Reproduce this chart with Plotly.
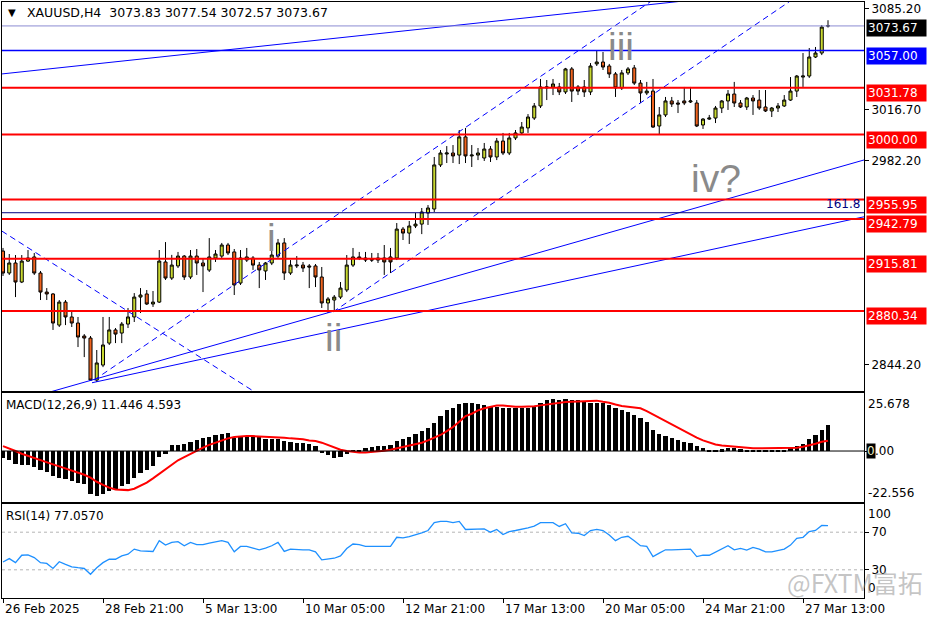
import plotly.graph_objects as go

# ---------------- data ----------------
tick_idx = [0, 16, 32, 48, 64, 80, 96, 112, 128]
tick_labels = ["26 Feb 2025", "28 Feb 21:00", "5 Mar 13:00", "10 Mar 05:00", "12 Mar 21:00",
               "17 Mar 13:00", "20 Mar 05:00", "24 Mar 21:00", "27 Mar 13:00"]

opens = [2921.0, 2906.1, 2912.9, 2900.0, 2914.2, 2917.0, 2906.1, 2893.2, 2891.9, 2870.8,
         2886.4, 2876.3, 2872.2, 2863.4, 2862.0, 2833.5, 2843.7, 2858.6, 2867.5, 2865.4,
         2871.5, 2876.3, 2889.8, 2891.9, 2885.1, 2886.4, 2913.6, 2902.7, 2910.9, 2917.6,
         2903.4, 2917.6, 2912.9, 2908.1, 2916.3, 2917.6, 2925.1, 2920.4, 2899.3, 2914.9,
         2916.3, 2911.5, 2907.5, 2912.9, 2917.6, 2926.5, 2906.1, 2910.9, 2911.5, 2910.9,
         2910.9, 2903.4, 2885.8, 2887.8, 2889.8, 2894.6, 2911.5, 2917.0, 2916.3, 2915.6,
         2916.3, 2916.3, 2917.0, 2916.3, 2935.9, 2933.2, 2938.0, 2939.3, 2946.8, 2949.5,
         2979.4, 2986.8, 2987.5, 2986.1, 2998.4, 2985.5, 2986.1, 2984.1, 2990.2, 2984.8,
         2995.6, 2987.5, 2997.7, 3001.1, 3004.5, 3011.2, 3019.4, 3031.6, 3032.3, 3032.3,
         3028.9, 3044.5, 3032.3, 3032.3, 3028.9, 3047.9, 3049.2, 3046.5, 3041.1, 3031.6,
         3041.8, 3045.2, 3034.9, 3028.2, 3029.5, 3005.8, 3013.3, 3022.8, 3021.4, 3022.8,
         3022.1, 3021.4, 3006.5, 3010.5, 3011.2, 3018.0, 3022.8, 3027.5, 3021.4, 3018.7,
         3024.8, 3023.4, 3018.7, 3016.0, 3018.0, 3019.4, 3023.4, 3029.5, 3039.0, 3039.7,
         3052.6, 3055.3, 3073.83]
highs = [2923.1, 2919.0, 2918.3, 2918.3, 2921.7, 2919.7, 2907.5, 2895.9, 2892.5, 2887.8,
         2887.8, 2879.7, 2876.3, 2864.7, 2863.4, 2853.9, 2876.3, 2876.3, 2868.8, 2872.9,
         2882.4, 2892.5, 2895.9, 2894.6, 2893.9, 2921.7, 2927.1, 2918.4, 2920.4, 2918.3,
         2921.7, 2922.4, 2916.3, 2929.8, 2921.7, 2926.5, 2926.5, 2922.4, 2921.7, 2923.1,
         2917.6, 2913.6, 2913.6, 2925.1, 2929.2, 2929.8, 2914.9, 2917.6, 2913.6, 2912.2,
         2912.2, 2910.2, 2889.8, 2891.2, 2900.0, 2918.3, 2923.1, 2920.4, 2920.4, 2919.7,
         2919.7, 2925.1, 2923.1, 2940.0, 2937.3, 2941.4, 2946.8, 2950.2, 2952.2, 2984.8,
         2989.5, 2992.2, 2992.9, 3003.1, 3004.5, 2992.9, 2990.9, 2994.3, 2992.2, 2997.7,
         3001.1, 3001.1, 3003.1, 3008.5, 3013.9, 3021.4, 3037.7, 3037.0, 3037.7, 3035.0,
         3045.2, 3045.8, 3033.6, 3037.0, 3048.5, 3056.7, 3056.0, 3047.9, 3042.4, 3043.8,
         3045.8, 3047.2, 3037.0, 3035.7, 3037.7, 3018.7, 3025.5, 3025.5, 3023.4, 3032.3,
         3032.3, 3023.4, 3011.2, 3013.3, 3019.4, 3023.4, 3030.2, 3035.7, 3023.4, 3025.5,
         3026.8, 3030.2, 3030.2, 3018.7, 3021.4, 3026.8, 3039.0, 3040.4, 3055.3, 3058.7,
         3059.4, 3074.3, 3077.54]
lows = [2904.1, 2904.8, 2889.8, 2899.3, 2913.6, 2904.8, 2887.8, 2887.8, 2867.5, 2869.5,
        2870.8, 2869.5, 2855.9, 2849.1, 2832.9, 2832.2, 2842.3, 2857.3, 2858.6, 2858.6,
        2868.8, 2872.9, 2879.0, 2884.4, 2883.1, 2885.8, 2901.4, 2901.4, 2909.5, 2901.4,
        2902.0, 2904.8, 2893.2, 2906.8, 2913.6, 2916.3, 2918.3, 2891.2, 2898.0, 2913.6,
        2908.2, 2895.9, 2901.4, 2911.5, 2916.3, 2901.4, 2904.8, 2909.5, 2906.8, 2895.9,
        2896.6, 2882.4, 2879.0, 2880.3, 2888.5, 2893.2, 2910.2, 2914.9, 2913.6, 2913.6,
        2912.9, 2904.8, 2906.1, 2914.9, 2928.5, 2925.8, 2936.6, 2932.5, 2938.7, 2947.5,
        2978.0, 2980.7, 2980.7, 2980.0, 2980.7, 2978.0, 2982.7, 2982.1, 2981.4, 2982.7,
        2986.1, 2986.1, 2996.3, 2999.7, 3001.1, 3009.9, 3018.0, 3023.4, 3026.8, 3026.8,
        3027.5, 3022.1, 3026.8, 3025.5, 3026.8, 3046.5, 3043.8, 3038.4, 3025.5, 3030.2,
        3040.4, 3033.6, 3021.4, 3026.8, 3004.5, 2999.7, 3011.9, 3018.7, 3014.6, 3020.0,
        3021.4, 3005.1, 3003.8, 3009.9, 3007.8, 3014.6, 3016.7, 3018.7, 3018.0, 3016.7,
        3013.3, 3016.7, 3015.3, 3011.9, 3015.3, 3018.7, 3022.8, 3025.5, 3032.3, 3038.4,
        3051.9, 3053.9, 3072.57]
closes = [2906.1, 2912.9, 2900.0, 2914.2, 2916.3, 2906.1, 2893.2, 2891.9, 2872.2, 2886.4,
          2876.3, 2872.2, 2862.7, 2862.0, 2833.5, 2845.1, 2857.3, 2867.5, 2864.7, 2871.5,
          2876.3, 2889.8, 2891.2, 2885.1, 2886.4, 2914.2, 2902.7, 2911.5, 2917.6, 2903.4,
          2917.6, 2912.9, 2910.9, 2917.0, 2919.0, 2925.1, 2919.7, 2898.0, 2916.3, 2917.0,
          2911.5, 2908.2, 2912.9, 2918.3, 2926.5, 2906.1, 2911.5, 2911.5, 2909.5, 2910.2,
          2903.4, 2885.8, 2888.5, 2889.8, 2895.9, 2911.5, 2917.0, 2916.3, 2914.9, 2914.9,
          2914.9, 2913.6, 2913.6, 2935.9, 2933.2, 2938.0, 2939.3, 2947.5, 2950.2, 2979.4,
          2987.5, 2987.5, 2985.5, 2998.4, 2985.5, 2986.1, 2987.5, 2990.2, 2984.8, 2995.6,
          2987.5, 2997.7, 3001.1, 3005.1, 3011.9, 3019.4, 3032.3, 3032.3, 3034.3, 3028.9,
          3044.5, 3029.5, 3029.5, 3028.9, 3046.5, 3049.2, 3045.8, 3041.1, 3031.6, 3041.8,
          3044.5, 3034.9, 3028.2, 3029.5, 3005.1, 3013.3, 3022.8, 3020.7, 3020.7, 3021.4,
          3022.8, 3005.8, 3010.5, 3011.2, 3018.0, 3022.8, 3027.5, 3021.4, 3018.7, 3024.8,
          3022.8, 3018.0, 3016.0, 3018.0, 3019.4, 3023.4, 3029.5, 3039.7, 3039.7, 3052.6,
          3055.3, 3072.9, 3073.67]

macd_main = [-3.2, -4.1, -5.9, -6.2, -6.3, -6.9, -8.6, -9.3, -11.1, -11.8,
             -12.5, -13.3, -14.0, -14.7, -18.9, -19.9, -19.2, -17.7, -17.0, -15.5,
             -14.5, -11.8, -9.6, -8.6, -6.6, -2.7, -1.5, 2.7, 2.7, 3.2,
             4.1, 5.0, 5.6, 6.3, 6.9, 7.4, 8.0, 5.9, 6.2, 6.6,
             6.6, 6.2, 5.2, 5.5, 5.5, 4.4, 4.1, 3.7, 3.4, 3.2,
             2.2, -1.0, -1.8, -2.9, -2.7, -1.5, 0.2, 0.6, 1.2, 1.8,
             2.1, 2.1, 2.5, 4.4, 5.2, 6.3, 7.7, 8.8, 10.3, 12.5,
             15.5, 18.0, 19.2, 20.6, 21.4, 21.1, 20.6, 20.4, 19.5, 19.5,
             18.9, 18.9, 18.9, 18.9, 19.2, 19.5, 21.4, 22.4, 22.9, 22.4,
             23.2, 22.6, 22.4, 21.7, 21.1, 21.4, 21.1, 20.2, 18.9, 18.0,
             17.4, 15.9, 14.5, 13.0, 9.1, 7.4, 6.6, 5.9, 4.7, 4.1,
             3.4, 2.1, 1.2, 0.3, 0.15, 0.7, 1.2, 1.5, 0.7, 0.4,
             0.3, 0.3, 0.3, 0.3, 0.3, 0.4, 1.2, 2.2, 3.2, 5.2,
             7.1, 9.1, 11.446]
macd_signal = [2.2, 1.2, 0.0, -1.2, -2.2, -3.2, -4.1, -5.0, -5.9, -6.8,
               -7.7, -8.6, -9.4, -10.5, -11.8, -13.6, -15.0, -16.2, -17.0, -17.3,
               -17.3, -16.7, -15.5, -14.0, -12.1, -10.0, -8.1, -5.9, -4.1, -2.7,
               -1.2, 0.0, 1.5, 2.7, 3.7, 4.7, 5.6, 6.2, 6.5, 6.6,
               6.6, 6.5, 6.3, 6.2, 6.0, 5.9, 5.6, 5.5, 5.2, 4.7,
               4.4, 3.7, 2.7, 1.5, 0.6, 0.0, -0.4, -0.6, -0.6, -0.4,
               -0.15, 0.15, 0.6, 1.2, 1.8, 2.4, 2.9, 3.7, 4.7, 5.9,
               7.1, 8.8, 10.6, 13.0, 15.5, 16.5, 18.0, 18.9, 19.6, 20.1,
               20.1, 19.8, 19.6, 19.6, 19.6, 19.8, 20.2, 20.6, 20.9, 21.4,
               21.7, 21.8, 22.0, 22.1, 22.3, 22.3, 21.8, 21.4, 20.6, 19.9,
               19.6, 19.2, 18.9, 17.7, 16.2, 14.7, 13.3, 11.8, 10.3, 8.8,
               7.4, 5.9, 4.7, 3.7, 2.9, 2.4, 2.1, 1.8, 1.5, 1.3,
               1.2, 1.2, 1.2, 1.2, 1.2, 1.2, 1.2, 1.5, 1.9, 2.5,
               3.2, 4.1, 4.593]
rsi = [38.3, 41.9, 37.6, 45.5, 45.9, 43.0, 37.6, 36.8, 31.4, 38.6,
       35.8, 33.2, 32.2, 31.4, 25.3, 32.2, 37.6, 41.2, 41.2, 44.8,
       46.6, 52.0, 50.2, 50.2, 49.5, 61.0, 56.3, 59.2, 59.9, 55.6,
       59.2, 56.7, 56.7, 58.5, 59.9, 61.0, 59.2, 49.1, 54.9, 54.9,
       53.1, 51.3, 53.1, 55.6, 59.2, 49.5, 52.0, 51.3, 51.3, 51.3,
       49.1, 40.5, 41.2, 42.3, 44.8, 52.7, 57.4, 56.7, 54.9, 54.9,
       54.9, 54.9, 54.9, 64.6, 63.9, 65.3, 67.1, 69.3, 71.8, 80.1,
       81.5, 81.5, 80.1, 81.5, 72.9, 72.9, 72.9, 73.6, 70.0, 72.9,
       67.5, 70.7, 71.8, 72.9, 74.7, 76.5, 80.1, 80.1, 80.1, 76.1,
       79.0, 69.3, 68.9, 66.4, 71.8, 72.9, 71.8, 67.1, 61.0, 64.6,
       65.7, 61.0, 55.6, 54.9, 44.1, 47.7, 51.3, 51.3, 51.3, 51.3,
       52.0, 44.1, 45.5, 45.5, 49.1, 52.7, 55.6, 51.3, 52.7, 50.9,
       53.8, 52.0, 49.1, 49.1, 50.2, 52.0, 56.3, 63.5, 64.6, 70.7,
       71.8, 77.2, 77.057]

red_levels = [3031.78, 3000.00, 2955.95, 2942.79, 2915.81, 2880.34]
blue_level = 3057.00
bid_price = 3073.67
fib_level = 2947.0
price_ticks = [3085.20, 3016.70, 2982.20, 2844.20]

# trend lines: (bar0, price0, bar1, price1, dashed)
trend_lines = [
    (-0.2, 3041.1, 108.5, 3090.4, False),
    (14.56, 2833.5, 110.0, 3108.6, True),
    (52.8, 2879.7, 130.0, 3102.2, True),
    (-0.2, 2934.6, 41.0, 2823.5, True),
    (7.5, 2825.4, 138.7, 2983.9, False),
    (14.24, 2831.7, 138.7, 2945.1, False),
]

bars = list(range(len(opens)))

# ---------------- figure ----------------
fig = go.Figure()

fig.add_trace(go.Candlestick(
    x=bars, open=opens, high=highs, low=lows, close=closes,
    increasing=dict(line=dict(color="black", width=1), fillcolor="#c8d830"),
    decreasing=dict(line=dict(color="black", width=1), fillcolor="#f0641e"),
    whiskerwidth=0, xaxis="x", yaxis="y", showlegend=False, hoverinfo="skip"))

for b0, p0, b1, p1, dashed in trend_lines:
    fig.add_trace(go.Scatter(
        x=[b0, b1], y=[p0, p1], mode="lines", xaxis="x", yaxis="y",
        line=dict(color="#0000ff", width=1, dash="6px,4px" if dashed else "solid"),
        showlegend=False, hoverinfo="skip"))

fig.add_trace(go.Bar(x=bars, y=macd_main, width=0.68, xaxis="x2", yaxis="y2",
                     marker=dict(color="black", line=dict(width=0)),
                     showlegend=False, hoverinfo="skip"))
fig.add_trace(go.Scatter(x=bars, y=macd_signal, mode="lines", xaxis="x2", yaxis="y2",
                         line=dict(color="#ff0000", width=2), showlegend=False, hoverinfo="skip"))

fig.add_trace(go.Scatter(x=bars, y=rsi, mode="lines", xaxis="x3", yaxis="y3",
                         line=dict(color="#1e90ff", width=1.3), showlegend=False, hoverinfo="skip"))

shapes = []
for v in red_levels:
    shapes.append(dict(type="line", xref="x domain", x0=0, x1=1, yref="y", y0=v, y1=v,
                       line=dict(color="#ff0000", width=2), layer="above"))
shapes.append(dict(type="line", xref="x domain", x0=0, x1=1, yref="y", y0=blue_level, y1=blue_level,
                   line=dict(color="#0000ff", width=1.5), layer="above"))
shapes.append(dict(type="line", xref="x domain", x0=0, x1=1, yref="y", y0=bid_price, y1=bid_price,
                   line=dict(color="#8c8cd2", width=1), layer="above"))
shapes.append(dict(type="line", xref="x domain", x0=0, x1=1, yref="y", y0=fib_level, y1=fib_level,
                   line=dict(color="#000080", width=1), layer="above"))
shapes.append(dict(type="line", xref="x2 domain", x0=0, x1=1, yref="y2", y0=0, y1=0,
                   line=dict(color="black", width=1), layer="above"))
for v in (70, 30):
    shapes.append(dict(type="line", xref="x3 domain", x0=0, x1=1, yref="y3", y0=v, y1=v,
                       line=dict(color="#b4b4b4", width=1, dash="dot"), layer="below"))

def px_x(px):
    return (px - 2) / 862.0

def px_y(py):
    return (598 - py) / 596.0

def note(**kw):
    base = dict(showarrow=False, xanchor="left", yanchor="middle")
    base.update(kw)
    return base

ann = []
for v in red_levels:
    ann.append(note(xref="paper", x=px_x(866), yref="y", y=v, yshift=-5,
                    text=f"{v:.2f}", bgcolor="#ff0000", font=dict(color="white", size=12),
                    width=57, height=14, align="left", borderpad=1))
ann.append(note(xref="paper", x=px_x(866), yref="y", y=blue_level, yshift=-5,
                text=f"{blue_level:.2f}", bgcolor="#0000ff", font=dict(color="white", size=12),
                width=57, height=14, align="left", borderpad=1))
ann.append(note(xref="paper", x=px_x(866), yref="y", y=bid_price, yshift=-2,
                text=f"{bid_price:.2f}", bgcolor="#000000", font=dict(color="white", size=12),
                width=57, height=14, align="left", borderpad=1))
ann.append(note(xref="paper", x=px_x(862), xanchor="right", yref="y", y=fib_level, yanchor="bottom",
                text="161.8", font=dict(color="#000080", size=12)))

wave_font = dict(family="Liberation Sans", size=39, color="#8a8a8a")
ann.append(note(xref="x", x=42.88, xanchor="center", yref="y", y=2929.9, text="i", font=wave_font))
ann.append(note(xref="x", x=52.8, xanchor="center", yref="y", y=2862.7, text="ii", font=wave_font))
ann.append(note(xref="x", x=98.9, xanchor="center", yref="y", y=3059.4, text="iii", font=wave_font))
ann.append(note(xref="x", x=114.1, xanchor="center", yref="y", y=2969.9, text="iv?", font=wave_font))

ann.append(note(xref="paper", x=px_x(6), yref="paper", y=px_y(12), text="▼", font=dict(size=10)))
ann.append(note(xref="paper", x=px_x(25), yref="paper", y=px_y(12),
                text="XAUUSD,H4  3073.83 3077.54 3072.57 3073.67", font=dict(size=12.5)))
ann.append(note(xref="paper", x=px_x(4), yref="paper", y=px_y(405),
                text="MACD(12,26,9) 11.446 4.593", font=dict(size=12)))
ann.append(note(xref="paper", x=px_x(4), yref="paper", y=px_y(516),
                text="RSI(14) 77.0570", font=dict(size=12)))

ann.append(note(xref="paper", x=px_x(866), yref="y2", y=25.678, yshift=-11,
                text="25.678", font=dict(size=12)))
ann.append(note(xref="paper", x=px_x(866), yref="y2", y=-22.556, yshift=9,
                text="-22.556", font=dict(size=12)))
ann.append(note(xref="paper", x=px_x(866), yref="y2", y=0, text="0",
                bgcolor="black", borderpad=0, font=dict(size=12, color="#f0f0c8")))
ann.append(note(xref="paper", x=px_x(874), yref="y2", y=0, text=".00", borderpad=0,
                font=dict(size=12)))
ann.append(note(xref="paper", x=px_x(866), yref="y3", y=100, yshift=-10,
                text="100", font=dict(size=12)))
ann.append(note(xref="paper", x=px_x(866), yref="y3", y=0, yshift=10,
                text="0", font=dict(size=12)))

for i, lab in zip(tick_idx, tick_labels):
    ann.append(note(xref="x", x=i, yref="paper", y=0, yanchor="top", yshift=-2,
                    text=lab, font=dict(size=12)))

ann.append(note(xref="paper", x=px_x(855), xanchor="center", yref="paper", y=px_y(582),
                text="@FXTM富拓",
                font=dict(family="Noto Sans CJK SC", size=25, color="rgba(140,140,140,0.5)")))

axis_common = dict(showgrid=False, zeroline=False, showline=True, mirror=True,
                   linecolor="black", linewidth=1, fixedrange=True, automargin=False)
xr = [-0.16, 137.76]

fig.update_layout(
    width=936, height=624,
    margin=dict(l=2, r=72, t=2, b=26, autoexpand=False),
    paper_bgcolor="white", plot_bgcolor="white",
    showlegend=False,
    font=dict(family="DejaVu Sans", size=12, color="black"),
    shapes=shapes, annotations=ann,
    bargap=0,
    xaxis=dict(domain=[0, 1], anchor="y", range=xr, showticklabels=False, ticks="",
               rangeslider=dict(visible=False), **axis_common),
    xaxis2=dict(domain=[0, 1], anchor="y2", range=xr, matches="x", showticklabels=False, ticks="",
                **axis_common),
    xaxis3=dict(domain=[0, 1], anchor="y3", range=xr, matches="x", showticklabels=False,
                tickvals=tick_idx, ticks="outside", ticklen=4, tickcolor="black", **axis_common),
    yaxis=dict(domain=[px_y(391), 1], anchor="x", side="right", range=[2826.1, 3089.9],
               tickvals=price_ticks, ticktext=[f"{v:.2f}" for v in price_ticks],
               ticks="outside", ticklen=4, tickcolor="black", **axis_common),
    yaxis2=dict(domain=[px_y(502), px_y(393)], anchor="x2", side="right", range=[-22.556, 25.678],
                tickvals=[0], ticktext=[""], ticks="outside", ticklen=4, tickcolor="black",
                **axis_common),
    yaxis3=dict(domain=[0, px_y(504)], anchor="x3", side="right", range=[0, 100],
                tickvals=[70, 30], ticktext=["70", "30"], ticks="outside", ticklen=4,
                tickcolor="black", **axis_common),
)

fig.write_html("out.html", config={"displayModeBar": False},
               post_script="document.body.style.margin='0';document.body.style.overflow='hidden';")
